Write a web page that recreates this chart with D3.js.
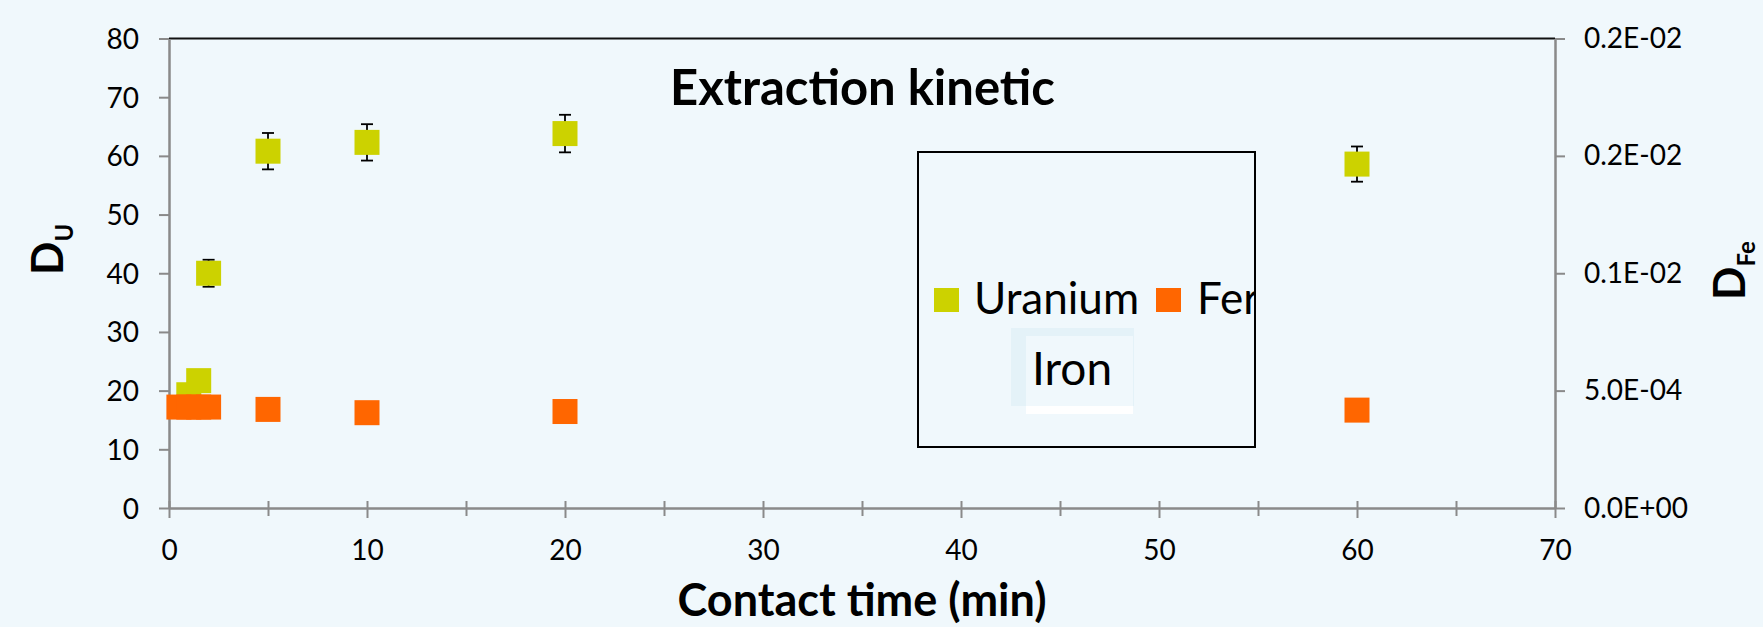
<!DOCTYPE html>
<html>
<head>
<meta charset="utf-8">
<script src="https://cdn.jsdelivr.net/npm/d3@7"></script>
<style>
  html, body { margin: 0; padding: 0; background: #f0f8fc; }
  svg { display: block; font-family: Lato, "Open Sans", sans-serif; }
</style>
</head>
<body>
<svg id="chart" width="1763" height="627"></svg>
<script>
// ---- data ----
const uraniumTime  = [1, 1.5, 2, 5, 10, 20, 60];
const uraniumD     = [19.3, 21.7, 40.0, 60.8, 62.3, 63.8, 58.6];
const uraniumErr   = [1.0, 1.0, 2.3, 3.1, 3.1, 3.2, 3.0];
const ironTime     = [0.5, 1, 1.5, 2, 5, 10, 20, 60];
const ironD        = [4.3e-4, 4.3e-4, 4.3e-4, 4.3e-4, 4.2e-4, 4.06e-4, 4.11e-4, 4.17e-4];
const xTicks       = [0, 10, 20, 30, 40, 50, 60, 70];
const xMinorTicks  = [5, 15, 25, 35, 45, 55, 65];
const yLeftTicks   = [0, 10, 20, 30, 40, 50, 60, 70, 80];
const yRightTicks  = [0, 0.0005, 0.001, 0.0015, 0.002];
const yRightLabels = ["0.0E+00", "5.0E-04", "0.1E-02", "0.2E-02", "0.2E-02"];
const seriesNames  = ["Uranium", "Fer"];

// ---- layout ----
const W = 1763, H = 627;
const L = 169, R = 1555, T = 38.5, B = 508;
const yellow = "#ccd200", orange = "#ff6600", gray = "#8a8a8a";

const svg = d3.select("#chart");
svg.append("rect").attr("width", W).attr("height", H).attr("fill", "#f0f8fc");

const x = d3.scaleLinear().domain([0, 70]).range([L, R]);
const yL = d3.scaleLinear().domain([0, 80]).range([B, T]);
const yR = d3.scaleLinear().domain([0, 0.002]).range([B, T]);

// top border
svg.append("line").attr("x1", L).attr("x2", R).attr("y1", T).attr("y2", T)
  .attr("stroke", "#111").attr("stroke-width", 2);

// left axis
const gL = svg.append("g").attr("transform", `translate(${L},0)`)
  .call(d3.axisLeft(yL).tickValues(yLeftTicks).tickSize(10).tickSizeOuter(0).tickPadding(20));
// right axis
const gR = svg.append("g").attr("transform", `translate(${R},0)`)
  .call(d3.axisRight(yR).tickValues(yRightTicks).tickSize(10).tickSizeOuter(0).tickPadding(19)
    .tickFormat((d, i) => yRightLabels[i]));
// bottom axis (major)
const gB = svg.append("g").attr("transform", `translate(0,${B})`)
  .call(d3.axisBottom(x).tickValues(xTicks).tickSize(10).tickSizeOuter(0));
// minor ticks
const gBm = svg.append("g").attr("transform", `translate(0,${B})`)
  .call(d3.axisBottom(x).tickValues(xMinorTicks).tickSize(8).tickSizeOuter(0).tickFormat(""));
gBm.select(".domain").remove();

[gL, gR, gB, gBm].forEach(g => {
  g.select(".domain").attr("stroke", gray).attr("stroke-width", 2.5);
  g.selectAll(".tick line").attr("stroke", gray).attr("stroke-width", 2);
  g.selectAll(".tick text").attr("fill", "#000").attr("font-size", 28)
    .attr("font-family", "Lato, sans-serif");
});
gB.selectAll(".tick line").attr("y1", -7);
gBm.selectAll(".tick line").attr("y1", -7);
gB.selectAll(".tick text").attr("y", 52).attr("dy", 0);
gL.selectAll(".tick text").attr("dy", 10);
gR.selectAll(".tick text").attr("dy", 9);

// title
svg.append("text").attr("x", 862.5).attr("y", 105).attr("text-anchor", "middle")
  .attr("font-size", 49).attr("font-weight", 700).text("Extraction kinetic");

// x axis title
svg.append("text").attr("x", 862).attr("y", 616).attr("text-anchor", "middle")
  .attr("font-size", 45).attr("font-weight", 700).text("Contact time (min)");

// left axis title D_U
const tU = svg.append("text").attr("transform", "translate(63,275) rotate(-90)")
  .attr("font-size", 44).attr("font-weight", 700);
tU.append("tspan").text("D");
tU.append("tspan").attr("font-size", 24).attr("dy", 10).text("U");

// right axis title D_Fe
const tF = svg.append("text").attr("transform", "translate(1745,300) rotate(-90)")
  .attr("font-size", 44).attr("font-weight", 700);
tF.append("tspan").text("D");
tF.append("tspan").attr("font-size", 24).attr("dy", 10).text("Fe");

// ---- marks ----
const S = 25;
const uData = uraniumTime.map((t, i) => ({ t, v: uraniumD[i], e: uraniumErr[i] }));
const fData = ironTime.map((t, i) => ({ t, v: ironD[i] }));

const eb = svg.append("g").attr("stroke", "#000").attr("stroke-width", 1.8);
uData.forEach(d => {
  const cx = x(d.t);
  eb.append("line").attr("x1", cx).attr("x2", cx).attr("y1", yL(d.v + d.e)).attr("y2", yL(d.v - d.e));
  eb.append("line").attr("x1", cx - 6).attr("x2", cx + 6).attr("y1", yL(d.v + d.e)).attr("y2", yL(d.v + d.e));
  eb.append("line").attr("x1", cx - 6).attr("x2", cx + 6).attr("y1", yL(d.v - d.e)).attr("y2", yL(d.v - d.e));
});

svg.append("g").selectAll("rect").data(uData).join("rect")
  .attr("x", d => x(d.t) - S / 2).attr("y", d => yL(d.v) - S / 2)
  .attr("width", S).attr("height", S).attr("fill", yellow);

svg.append("g").selectAll("rect").data(fData).join("rect")
  .attr("x", d => x(d.t) - S / 2).attr("y", d => yR(d.v) - S / 2)
  .attr("width", S).attr("height", S).attr("fill", orange);

// ---- legend ----
const lx = 918, ly = 152, lw = 337, lh = 295;
svg.append("clipPath").attr("id", "legclip").append("rect")
  .attr("x", lx).attr("y", ly).attr("width", lw - 1).attr("height", lh);
const leg = svg.append("g").attr("clip-path", "url(#legclip)");
leg.append("rect").attr("x", 934).attr("y", 288).attr("width", 25).attr("height", 24).attr("fill", yellow);
leg.append("text").attr("x", 974).attr("y", 314).attr("font-size", 44).text(seriesNames[0]);
leg.append("rect").attr("x", 1156).attr("y", 288).attr("width", 25).attr("height", 24).attr("fill", orange);
leg.append("text").attr("x", 1197).attr("y", 314).attr("font-size", 44).text(seriesNames[1]);
svg.append("rect").attr("x", lx).attr("y", ly).attr("width", lw).attr("height", lh)
  .attr("fill", "none").attr("stroke", "#000").attr("stroke-width", 2);

// "Iron" annotation
svg.append("rect").attr("x", 1011).attr("y", 328).attr("width", 123).attr("height", 78).attr("fill", "#e4f2f8");
svg.append("rect").attr("x", 1026).attr("y", 336).attr("width", 107).attr("height", 70).attr("fill", "#f0f8fc");
svg.append("rect").attr("x", 1026).attr("y", 406).attr("width", 107).attr("height", 8).attr("fill", "#ffffff");
svg.append("text").attr("x", 1032).attr("y", 385).attr("font-size", 46).text("Iron");
</script>
</body>
</html>
